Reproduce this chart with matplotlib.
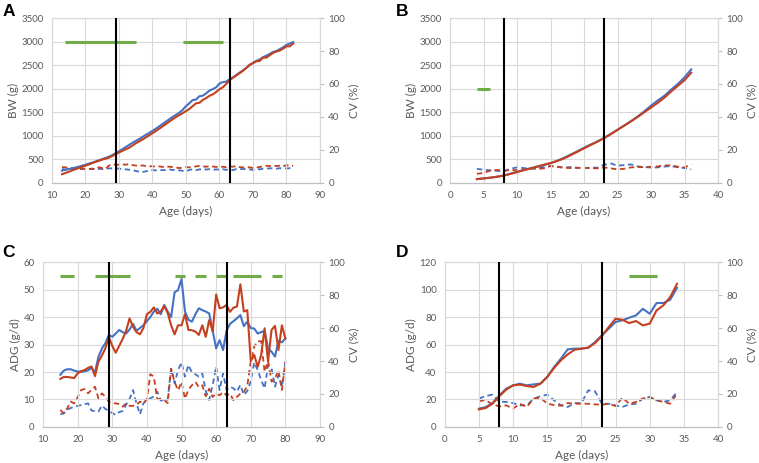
import numpy as np
import matplotlib
matplotlib.use("Agg")
import matplotlib.pyplot as plt

plt.rcParams['font.family'] = ['Lato', 'DejaVu Sans']

BLUE = '#4472C4'
RED = '#C5401E'
GREEN = '#70AD47'
GRID = '#D9D9D9'
TXT = '#595959'

# ---- Panel A: body weight, ages 13-82 ----
age_a = list(range(13, 83))
bw_a_blue = [260, 280, 295, 310, 325, 345, 365, 385, 410, 430, 455, 480, 505, 530, 555, 590, 630, 670,
             715, 760, 805, 850, 890, 930, 975, 1020, 1060, 1105, 1150, 1200, 1250, 1300, 1350, 1400,
             1445, 1490, 1550, 1630, 1690, 1760, 1770, 1840, 1850, 1900, 1960, 1990, 2030, 2110, 2140,
             2150, 2200, 2240, 2290, 2340, 2390, 2440, 2500, 2550, 2590, 2620, 2670, 2700, 2740, 2780,
             2800, 2840, 2880, 2930, 2960, 2990]
bw_a_red = [185, 210, 235, 265, 290, 315, 340, 365, 390, 420, 445, 470, 495, 515, 535, 570, 610, 645,
            680, 715, 745, 790, 840, 880, 920, 965, 1010, 1055, 1100, 1150, 1200, 1250, 1300, 1350,
            1400, 1440, 1480, 1525, 1570, 1630, 1690, 1700, 1760, 1800, 1850, 1880, 1930, 1990, 2030,
            2100, 2180, 2230, 2280, 2330, 2380, 2440, 2510, 2540, 2580, 2590, 2660, 2660, 2710, 2760,
            2790, 2810, 2850, 2900, 2900, 2960]
cv_a_blue = [8.5, 8, 8, 8.2, 8.5, 8.3, 8.4, 8.5, 8.3, 8.6, 8.2, 8.5, 8.4, 8.7, 8.8, 8.8, 9, 8.6, 8.4,
             8.2, 8, 7.8, 7.2, 6.8, 6.6, 7, 7.5, 7.8, 7.6, 7.9, 7.7, 7.8, 8.2, 7.8, 8, 7.6, 7.3, 7.0,
             7.9, 8.2, 7.7, 8.2, 8.4, 8.1, 8.3, 7.9, 8.2, 8, 8.3, 7.9, 8.1, 7.7, 8.4, 8.5, 8.3, 8.6,
             8.2, 7.9, 8.3, 8.2, 8.6, 8.7, 8.8, 8.9, 8.6, 8.9, 8.7, 8.8, 8.9, 9.2]
cv_a_red = [9.6, 9.4, 9.2, 9.0, 8.8, 8.8, 8.6, 8.5, 8.4, 8.6, 8.3, 9.5, 9.0, 8.6, 10.5, 11.2, 11.0,
            11.0, 11.3, 11.0, 11.5, 10.8, 10.5, 10.3, 10.6, 10.2, 10.0, 10.1, 9.8, 10.0, 9.7, 10.0,
            9.8, 9.6, 9.3, 9.0, 9.2, 9.6, 9.4, 9.8, 10.0, 10.3, 10.0, 9.8, 10.1, 9.9, 9.7, 9.6, 9.8,
            9.5, 10.0, 9.8, 10.2, 9.6, 9.4, 9.2, 9.5, 9.0, 9.3, 9.6, 10.1, 10.4, 10.2, 10.5, 10.2,
            10.4, 10.0, 10.8, 10.2, 10.4]
sig_a = [(14, 35), (49, 61)]
sig_a_y = 3000

# ---- Panel B: body weight, ages 4-36 ----
age_b = list(range(4, 37))
bw_b_blue = [80, 95, 110, 130, 155, 195, 235, 275, 310, 345, 380, 420, 470, 530, 600, 670, 745, 815,
             880, 955, 1040, 1130, 1220, 1310, 1410, 1520, 1640, 1750, 1850, 1980, 2100, 2240, 2410]
bw_b_red = [80, 95, 110, 130, 155, 190, 230, 270, 305, 345, 385, 420, 465, 520, 590, 660, 735, 805,
            875, 950, 1035, 1125, 1215, 1305, 1400, 1500, 1600, 1700, 1810, 1940, 2060, 2180, 2340]
cv_b_blue = [8.5, 8.0, 7.6, 7.3, 7.0, 8.6, 9.4, 9.0, 8.6, 9.0, 9.6, 10.3, 9.6, 9.3, 9.6, 9.2, 9.0,
             9.3, 9.2, 11.0, 11.8, 10.4, 10.8, 11.2, 10.0, 9.6, 9.3, 9.4, 9.9, 10.2, 9.4, 9.0, 8.2]
cv_b_red = [5.5, 6.0, 7.5, 7.8, 7.6, 7.6, 7.9, 8.2, 8.8, 8.5, 8.8, 10.2, 9.8, 9.2, 9.0, 9.1, 9.0,
            9.0, 8.8, 9.4, 8.8, 8.2, 8.6, 9.4, 9.6, 9.5, 9.8, 10.0, 10.6, 10.6, 9.8, 9.4, 11.3]
sig_b = [(4, 6)]
sig_b_y = 2000

# ---- Panel C: ADG, ages 15-80 ----
age_c = list(range(15, 81))
adg_c_blue = [19, 20.5, 21, 21, 20.5, 20.2, 20, 20.3, 20.6, 21.5, 19.8, 25.5, 28.5, 30.5, 33.5, 32.8,
              34, 35.3, 34.5, 34, 35.5, 37.5, 35, 36, 37, 38.5, 40, 42, 43, 41, 44.4, 42, 40, 49,
              49.8, 53.8, 42, 39, 38.3, 41, 43.2, 42.5, 42, 41.3, 35, 28.6, 31.6, 28, 35, 37.5, 38.5,
              39.5, 40.7, 36.7, 38.3, 36, 35.8, 34, 34.5, 35, 28.6, 27.4, 25.6, 31.3, 30.8, 32.2]
adg_c_red = [17.5, 18.2, 18.2, 18, 17.8, 19.5, 20.3, 20.7, 21.5, 22, 18.5, 23.8, 26, 28.6, 32.8, 29.5,
             27, 29.5, 32, 35, 39.5, 36.5, 34.5, 33.7, 36, 41, 41.9, 43.5, 41.3, 42, 44, 41.5, 37,
             33.7, 37, 37, 41, 35.3, 35.2, 34.7, 33.5, 37, 32.8, 38.9, 34.7, 48.2, 43.2, 43.5, 44.4,
             41.9, 43.4, 43.8, 51.9, 42, 42.5, 24, 26.2, 21.9, 26.2, 35.9, 23.8, 35.3, 36.8, 28, 37,
             32.2]
cv_c_blue = [7.7, 8.3, 10.5, 11.5, 12.3, 12.8, 13.3, 13.8, 14.3, 10, 9.5, 9.3, 13, 11, 9.7, 8.5, 7.3,
             9, 9.7, 13.5, 17, 22.4, 14.3, 7.7, 14.3, 16.5, 17.5, 18.4, 21.4, 16, 16.4, 16.5, 35.6,
             26.5, 34.5, 39.2, 30.5, 37.6, 33, 32, 30.5, 32.5, 22, 16.4, 25.5, 36.6, 22.4, 32.5, 22.4,
             24.4, 23.4, 21.4, 25.5, 19.4, 21.8, 27.5, 39.2, 34.5, 28.5, 23.4, 37.6, 35.6, 24.4, 31.5,
             24.4, 39.6]
cv_c_red = [10.3, 8.3, 11.3, 15.4, 14.3, 18, 22.4, 23, 20.4, 22.5, 24.4, 17.4, 20.4, 18.4, 15.4, 14.5,
            14.3, 13.9, 12.3, 14.3, 12.8, 12.8, 13.3, 15.4, 14.3, 17, 32, 30.5, 17, 17, 16.4, 14.5,
            35.4, 27.3, 22.2, 27.3, 17.2, 22.6, 25.3, 27.3, 24.2, 25.3, 18.6, 23.2, 18.2, 20.2, 19.2,
            21.2, 19.2, 20.2, 16.2, 18.2, 20.2, 21.2, 25, 39.6, 48.7, 52, 52, 33.5, 40, 27.5, 29.5,
            34.5, 22.4, 39.6]
sig_c = [(15, 19), (25, 35), (48, 51), (54, 57), (60, 63), (65, 73), (76, 79)]
sig_c_y = 55

# ---- Panel D: ADG, ages 5-34 ----
age_d = list(range(5, 35))
adg_d_blue = [13.3, 14.5, 17.5, 23, 27.9, 30.3, 31.5, 30.3, 31, 31.5, 36.4, 43.6, 49.7, 56.5, 57, 57,
              57.7, 61.8, 66.7, 71.5, 76.4, 77.6, 79.5, 81.2, 86, 82.4, 90.2, 90.2, 92.6, 101.3]
adg_d_red = [12.8, 13.8, 17, 22.5, 27.2, 30.3, 30.8, 29.8, 29.1, 31.5, 36.4, 42.9, 48.5, 52.8, 56.2,
             57, 57.7, 61.1, 66.2, 72.7, 78.8, 78, 75.6, 77.1, 73.9, 75.2, 84.8, 88.5, 94.5, 104.2]
cv_d_blue = [17.2, 18.8, 19.6, 15.2, 15.2, 14.5, 13.1, 13.1, 17.2, 18.6, 19.6, 16.2, 13.1, 12.1, 14.5,
             14.5, 22.2, 21.6, 14.1, 14.1, 13.1, 12.1, 13.7, 14.1, 17.2, 18.2, 16.2, 15.2, 16.2, 21.2]
cv_d_red = [15.8, 16.2, 13.7, 12.5, 13.1, 11.1, 14.1, 12.1, 17.2, 17.8, 14.1, 13.3, 12.9, 14.5, 14.1,
            14.1, 14.1, 13.7, 13.5, 14.1, 12.7, 17.8, 14.1, 15.2, 17.2, 18.2, 16.2, 15.2, 14.1, 20.2]
sig_d = [(27, 31)]
sig_d_y = 110

# ---- figure ----
fig = plt.figure(figsize=(7.59, 4.63), dpi=100)

panels = [
    # letter, rect, x, solid blue, solid red, cv blue, cv red, sig, sig y, xlim, ylim, ystep, ylabel, vlines, letter pos
    ('A', [0.0685, 0.605, 0.3531, 0.356], age_a, bw_a_blue, bw_a_red, cv_a_blue, cv_a_red, sig_a, sig_a_y,
     (10, 90), (0, 3500), 500, 'BW (g)', (29, 63), (0.003, 0.975)),
    ('B', [0.593, 0.605, 0.353, 0.356], age_b, bw_b_blue, bw_b_red, cv_b_blue, cv_b_red, sig_b, sig_b_y,
     (0, 40), (0, 3500), 500, 'BW (g)', (8, 23), (0.522, 0.975)),
    ('C', [0.0567, 0.0778, 0.3649, 0.3562], age_c, adg_c_blue, adg_c_red, cv_c_blue, cv_c_red, sig_c, sig_c_y,
     (10, 90), (0, 60), 10, 'ADG (g/d)', (29, 63), (0.003, 0.455)),
    ('D', [0.586, 0.0778, 0.360, 0.3562], age_d, adg_d_blue, adg_d_red, cv_d_blue, cv_d_red, sig_d, sig_d_y,
     (0, 40), (0, 120), 20, 'ADG (g/d)', (8, 23), (0.522, 0.455)),
]

for (letter, rect, x, yb, yr, cb, cr, sig, sigy, xlim, ylim, ystep, ylab, vl, lpos) in panels:
    ax = fig.add_axes(rect)
    ax2 = ax.twinx()
    ax.set_zorder(ax2.get_zorder() + 1)
    ax.patch.set_visible(False)

    ax.set_xlim(*xlim)
    ax.set_ylim(*ylim)
    ax.set_xticks(np.arange(xlim[0], xlim[1] + 1, 10 if xlim[1] == 90 else 5))
    ax.set_yticks(np.arange(ylim[0], ylim[1] + 1, ystep))
    ax2.set_ylim(0, 100)
    ax2.set_yticks(np.arange(0, 101, 20))

    ax.grid(True, color=GRID, lw=0.8)
    ax.set_axisbelow(True)

    for a in (ax, ax2):
        for s in a.spines.values():
            s.set_color(GRID)
            s.set_linewidth(0.8)
        a.spines['bottom'].set_color('#BFBFBF')

    ax.tick_params(axis='both', length=0, labelsize=7, labelcolor=TXT)
    ax.tick_params(axis='y', pad=6)
    ax.tick_params(axis='x', pad=6)
    ax2.tick_params(axis='y', length=3, color='#BFBFBF', labelsize=7, labelcolor=TXT, pad=3)

    # CV lines (right axis)
    ax2.plot(x, cb, color=BLUE, lw=1.3, ls=(0, (3, 2)))
    ax2.plot(x, cr, color=RED, lw=1.3, ls=(0, (3, 2)))

    # mean lines (left axis)
    ax.plot(x, yb, color=BLUE, lw=1.5)
    ax.plot(x, yr, color=RED, lw=1.5)

    for v in vl:
        ax.axvline(v, color='black', lw=1.5, zorder=5)

    for s0, s1 in sig:
        ax.plot([s0, s1], [sigy, sigy], color=GREEN, lw=2.2, solid_capstyle='butt')

    ax.set_xlabel('Age (days)', fontsize=8.5, color=TXT, labelpad=4)
    ax.set_ylabel(ylab, fontsize=8.5, color=TXT, labelpad=2)
    ax2.set_ylabel('CV (%)', fontsize=8.5, color=TXT, labelpad=2)

    fig.text(lpos[0], lpos[1], letter, fontsize=12.5, fontweight='bold', color='black',
             family=['Liberation Sans', 'DejaVu Sans'], va='center', ha='left')

fig.savefig('out.png', dpi=100)
